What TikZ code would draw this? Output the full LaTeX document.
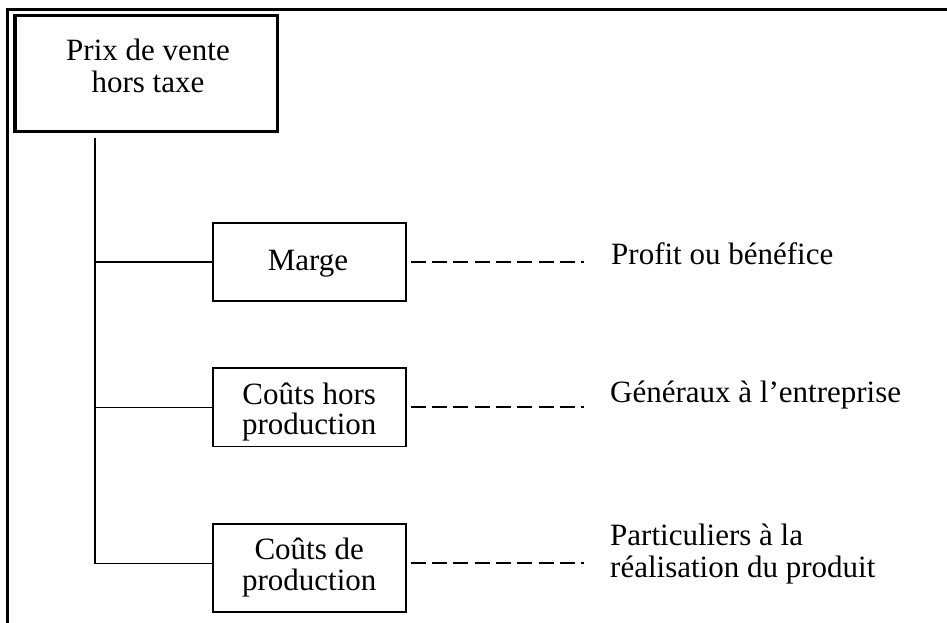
\documentclass[tikz,border=0pt]{standalone}
\usepackage{fontspec}
\setmainfont{Liberation Serif}
\begin{document}
\begin{tikzpicture}[x=1pt,y=-1pt,
  txt/.style={inner sep=0pt, font=\fontsize{31}{33}\selectfont},
  mainbox/.style={draw, line width=3.3pt, minimum width=262.3pt, minimum height=116pt, inner sep=0pt},
  itembox/.style={draw, line width=1.6pt, minimum width=193pt, inner sep=0pt},
  link/.style={line width=1.6pt},
  dashlink/.style={line width=2.2pt, dash pattern=on 15pt off 6.3pt},
  frame/.style={line width=2.7pt}]
\useasboundingbox (0,0) rectangle (947,623);

% open frame: top and left sides only
\draw[frame] (947,9.7) -- (7.3,9.7) -- (7.3,623);

% root box
\node[mainbox] (prix) at (146.2,73.7) {};
\node[txt, anchor=base] (prixA) at (148,61) {Prix de vente};
\node[txt, anchor=base] (prixB) at (148,93) {hors taxe};

% component boxes
\node[itembox, minimum height=78pt] (marge) at (309.2,261.7) {};
\node[txt, anchor=base] (margeT) at (308,270) {Marge};

\node[itembox, minimum height=78.7pt] (chp) at (309.2,407.3) {};
\node[txt, anchor=base] (chpA) at (309.2,404) {Coûts hors};
\node[txt, anchor=base] (chpB) at (309.2,434) {production};

\node[itembox, minimum height=88pt] (cdp) at (309.2,568) {};
\node[txt, anchor=base] (cdpA) at (309.2,559) {Coûts de};
\node[txt, anchor=base] (cdpB) at (309.2,590) {production};

% tree connectors
\coordinate (trunk) at (94.7,138);
\draw[link] (trunk) |- ([yshift=4.7pt]cdp.west);
\draw[link] (marge.west -| trunk) -- (marge.west);
\draw[link] (chp.west -| trunk) -- (chp.west);

% descriptions
\node[txt, anchor=base west] (profit) at (611,264) {Profit ou bénéfice};
\node[txt, anchor=base west] (gen) at (610,402) {Généraux à l’entreprise};
\node[txt, anchor=base west] (partA) at (610,545) {Particuliers à la};
\node[txt, anchor=base west] (partB) at (610,577) {réalisation du produit};

% dashed leaders
\coordinate (mEnd) at (584,261.7);
\coordinate (hEnd) at (584,407.3);
\coordinate (dEnd) at (584,563.3);
\draw[dashlink] ([xshift=4.3pt]marge.east) -- (mEnd);
\draw[dashlink] ([xshift=4.3pt]chp.east) -- (hEnd);
\draw[dashlink] ([xshift=4.3pt,yshift=4.7pt]cdp.east) -- (dEnd);
\end{tikzpicture}
\end{document}
